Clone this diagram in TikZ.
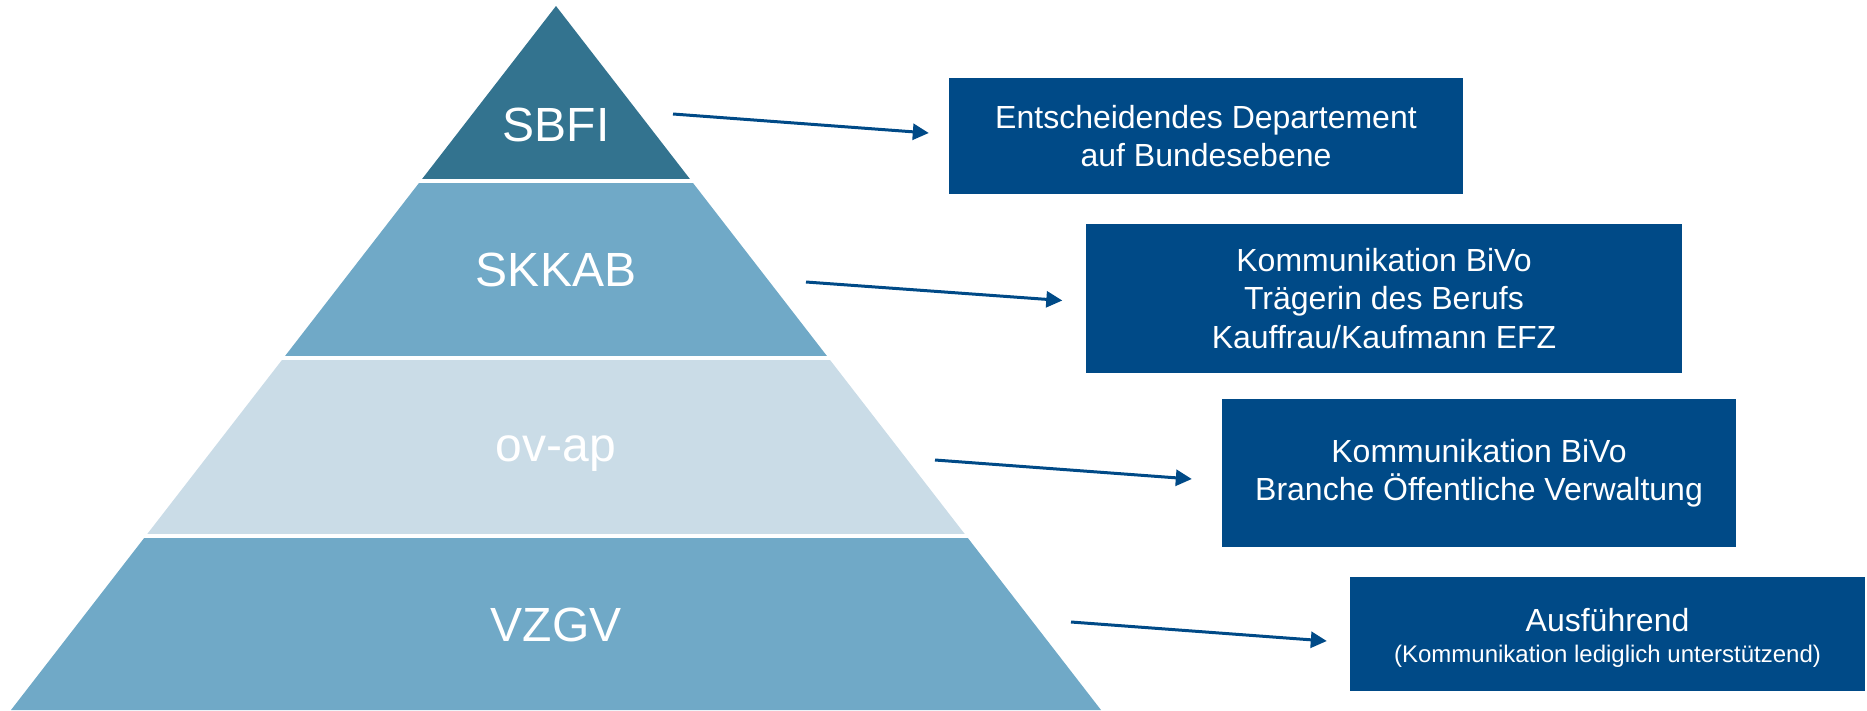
\documentclass[tikz,border=0pt]{standalone}
\usepackage{fontspec}
\setmainfont{Liberation Sans}
\usepackage{tikz}
\usetikzlibrary{positioning}
\usetikzlibrary{arrows.meta}
\definecolor{sbfiblue}{RGB}{51,115,143}
\definecolor{midblue}{RGB}{112,169,199}
\definecolor{paleblue}{RGB}{202,220,231}
\definecolor{boxblue}{RGB}{0,74,135}
\tikzset{
  level/.style={text=white,font=\fontsize{48}{58}\selectfont,anchor=base},
  infobox/.style={fill=boxblue,text=white,align=center,inner sep=0pt,font=\fontsize{32}{38.4}\selectfont},
  arr/.style={draw=boxblue,line width=3pt,-{Triangle[length=16pt,width=16pt]}}
}

\begin{document}
\begin{tikzpicture}[x=1pt,y=-1pt]
\useasboundingbox (0,0) rectangle (1867,710);
% pyramid bands
\foreach \ytop/\ybot/\col in {0/178/sbfiblue,183/355/midblue,360/533/paleblue,538/710/midblue} {
\begin{scope}
\clip (0,\ytop) rectangle (1867,\ybot);
\fill[\col] (556,6) -- (1101,710) -- (11,710) -- cycle;
\end{scope}
}
\node[level] (sbfi) at (556,141) {SBFI};
\node[level] (skkab) at (556,286) {SKKAB};
\node[level] (ovap) at (556,461) {ov-ap};
\node[level] (vzgv) at (556,641) {VZGV};
% boxes
\node[infobox,minimum width=514pt,minimum height=116pt] (dep) at (1206,136.3) {Entscheidendes Departement\\auf Bundesebene};
\node[infobox,minimum width=596pt,minimum height=149pt] (traeger) at (1384,298.5) {Kommunikation BiVo\\Trägerin des Berufs\\Kauffrau/Kaufmann EFZ};
\node[infobox,minimum width=514pt,minimum height=148pt] (branche) at (1479,473) {Kommunikation BiVo\\Branche Öffentliche Verwaltung};
\node[infobox,minimum width=515pt,minimum height=114pt] (ausf) at (1607.5,634) {\rule{0pt}{31pt}Ausführend\\[-7pt]{\fontsize{24}{30}\selectfont(Kommunikation lediglich unterstützend)}};
% arrows
\coordinate (sbfi-out) at (673,114);
\coordinate (skkab-out) at (806,282);
\coordinate (ovap-out) at (935,460);
\coordinate (vzgv-out) at (1071,622);
\draw[arr] (sbfi-out) -- ([xshift=-20pt,yshift=3.3pt]dep.west);
\draw[arr] (skkab-out) -- ([xshift=-23.5pt,yshift=-2pt]traeger.west);
\draw[arr] (ovap-out) -- ([xshift=-30pt,yshift=-6pt]branche.west);
\draw[arr] (vzgv-out) -- ([xshift=-23pt,yshift=-7pt]ausf.west);
\end{tikzpicture}
\end{document}
